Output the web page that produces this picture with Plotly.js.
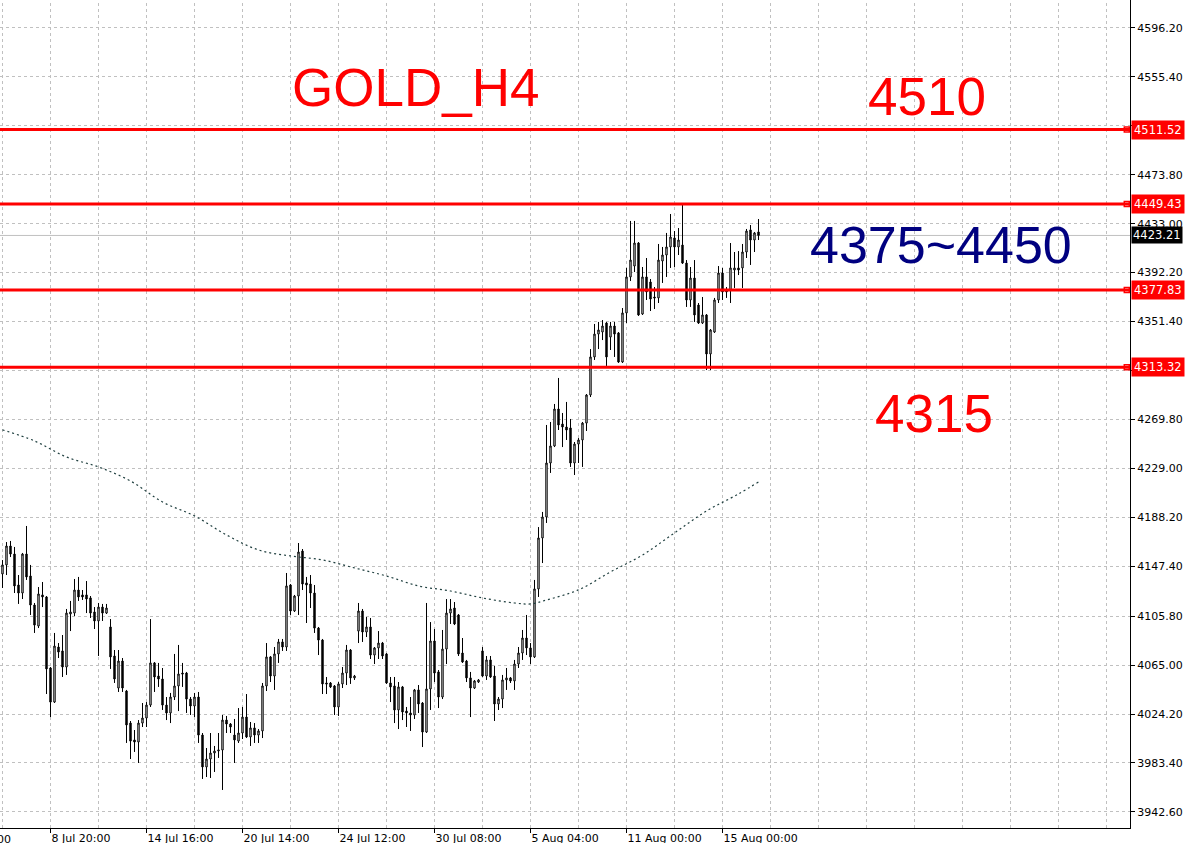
<!DOCTYPE html>
<html>
<head>
<meta charset="utf-8">
<script src="https://cdn.plot.ly/plotly-3.0.1.min.js"></script>
<style>
html,body{margin:0;padding:0;background:#fff;}
#chart{width:1191px;height:843px;}
</style>
</head>
<body>
<div id="chart"></div>
<script>
// ---- DATA ----
const openPrices = [4141.0,4148.5,4164.3,4157.6,4131.8,4125.1,4157.6,4139.3,4115.1,4097.6,
4123.5,4121.8,4062.6,4034.2,4080.1,4076.8,4063.4,4107.6,4108.4,4127.6,
4123.5,4123.5,4121.0,4109.3,4101.8,4113.4,4108.4,4096.8,4072.6,4045.9,
4068.4,4043.4,4016.7,4002.6,4000.9,4016.7,4020.9,4031.7,4066.8,4055.9,
4053.4,4031.7,4025.1,4038.4,4047.6,4058.4,4058.4,4036.7,4030.9,4038.4,
4006.7,3980.1,3986.7,3991.7,3993.4,3994.2,4019.2,4015.9,4006.7,4001.7,
4008.4,4021.7,4005.1,4012.6,4006.7,4010.1,4047.6,4071.8,4055.9,4074.3,
4084.3,4080.1,4131.8,4110.1,4122.6,4160.1,4133.5,4132.6,4125.1,4095.9,
4085.9,4050.1,4050.1,4047.6,4030.1,4049.3,4058.4,4077.6,4054.3,4093.4,
4110.1,4092.6,4096.8,4073.4,4079.3,4083.4,4074.3,4050.1,4047.6,4027.6,
4046.8,4026.7,4025.1,4023.4,4044.3,4033.4,4009.2,4045.1,4085.1,4059.3,
4038.4,4078.4,4108.4,4112.6,4106.8,4075.1,4068.4,4054.3,4045.9,4050.9,
4076.8,4055.9,4069.3,4055.9,4032.6,4036.7,4052.6,4054.3,4051.8,4065.9,
4075.1,4087.6,4079.3,4071.8,4128.5,4171.0,4188.5,4233.5,4247.7,4278.5,
4266.0,4263.5,4262.7,4233.5,4249.3,4252.7,4266.8,4290.2,4321.9,4341.0,
4342.7,4350.2,4338.5,4347.7,4341.9,4317.7,4358.6,4388.6,4397.7,4416.9,
4357.7,4388.6,4384.4,4371.9,4371.1,4401.9,4406.9,4413.6,4421.1,4413.6,
4415.2,4400.2,4369.4,4387.7,4365.2,4350.2,4356.9,4324.4,4342.7,4369.4,
4391.9,4377.7,4377.7,4394.4,4396.1,4396.1,4409.4,4427.8,4419.4,4426.1];

const highPrices = [4152.6,4167.6,4168.5,4163.5,4140.1,4158.5,4181.0,4148.5,4116.8,4130.1,
4134.3,4122.6,4063.4,4091.8,4083.4,4090.1,4111.8,4118.5,4136.8,4138.5,
4127.6,4135.1,4122.6,4113.4,4116.8,4116.0,4116.0,4103.4,4077.6,4077.6,
4070.9,4044.3,4018.4,4010.9,4019.2,4033.4,4034.2,4103.4,4067.6,4066.8,
4062.6,4038.4,4041.8,4074.3,4081.8,4066.8,4059.3,4038.4,4041.8,4042.6,
4008.4,3995.9,4008.4,3997.6,4008.4,4023.4,4022.6,4016.7,4020.1,4029.2,
4030.1,4040.9,4017.6,4016.7,4011.7,4050.1,4083.4,4072.6,4080.1,4086.8,
4086.8,4141.8,4132.6,4123.5,4166.8,4161.8,4138.5,4140.1,4131.8,4096.8,
4086.8,4055.1,4050.9,4048.4,4050.9,4063.4,4081.8,4078.4,4056.8,4116.8,
4111.8,4105.1,4104.3,4080.1,4093.4,4084.3,4075.1,4055.1,4055.1,4050.9,
4047.6,4030.1,4038.4,4045.1,4048.4,4034.2,4116.8,4100.9,4095.1,4060.9,
4094.3,4120.1,4120.1,4117.6,4107.6,4087.6,4069.3,4059.3,4052.6,4053.4,
4080.1,4072.6,4072.6,4064.3,4038.4,4056.8,4062.6,4055.1,4069.3,4080.1,
4094.3,4106.8,4083.4,4136.0,4180.1,4192.7,4265.2,4267.7,4282.7,4304.4,
4275.2,4284.4,4270.2,4251.0,4254.3,4267.7,4291.0,4328.5,4349.4,4351.1,
4352.7,4351.1,4351.1,4351.1,4342.7,4362.7,4396.1,4435.3,4435.3,4417.7,
4396.9,4404.4,4386.9,4380.2,4416.1,4413.6,4425.3,4441.1,4426.9,4429.4,
4449.4,4402.7,4396.9,4402.7,4366.9,4371.9,4357.7,4345.2,4371.1,4397.7,
4396.1,4380.2,4416.9,4409.4,4410.2,4416.1,4428.6,4431.9,4426.1,4436.9];

const lowPrices = [4129.3,4140.1,4155.1,4125.1,4116.0,4120.1,4136.0,4106.8,4091.8,4095.9,
4113.4,4040.9,4021.7,4033.4,4070.9,4055.1,4056.8,4093.4,4105.9,4118.5,
4119.3,4108.4,4104.3,4095.1,4072.6,4101.8,4107.6,4061.8,4050.1,4042.6,
4042.6,4000.1,3986.7,3992.6,3983.4,4013.4,4013.4,4030.1,4042.6,4046.8,
4027.6,4019.2,4016.7,4035.9,4026.7,4046.8,4025.1,4023.4,4021.7,4000.1,
3970.1,3971.7,3970.9,3975.9,3987.6,3960.9,4008.4,4008.4,3983.4,4000.1,
4003.4,4004.2,3997.6,4000.1,4000.1,4004.2,4043.4,4050.9,4044.3,4066.8,
4076.8,4076.8,4106.8,4109.3,4106.8,4127.6,4100.1,4112.6,4091.8,4073.4,
4040.9,4040.9,4045.9,4023.4,4022.6,4045.9,4048.4,4049.3,4052.6,4083.4,
4084.3,4088.4,4070.1,4065.9,4070.1,4070.1,4049.3,4034.2,4016.7,4011.7,
4019.2,4013.4,4010.1,4020.1,4025.1,3996.7,4008.4,4027.6,4050.9,4029.2,
4036.7,4065.9,4099.3,4098.4,4072.6,4066.8,4050.9,4021.7,4045.1,4050.1,
4055.1,4052.6,4054.3,4018.4,4027.6,4029.2,4044.3,4050.1,4044.3,4062.6,
4069.3,4073.4,4065.9,4070.9,4121.8,4150.1,4183.5,4225.2,4246.8,4261.0,
4246.8,4252.7,4230.2,4223.5,4233.5,4230.2,4260.2,4288.5,4319.4,4328.5,
4336.0,4314.4,4327.7,4321.9,4316.9,4316.9,4350.2,4385.2,4392.7,4356.1,
4356.9,4369.4,4360.2,4361.9,4366.9,4383.6,4388.6,4396.1,4396.9,4406.9,
4399.4,4363.6,4363.6,4351.1,4349.4,4349.4,4311.0,4311.0,4341.9,4366.9,
4369.4,4371.1,4366.9,4379.4,4390.2,4379.4,4404.4,4398.6,4409.4,4419.4];

const closePrices = [4148.5,4164.3,4157.6,4131.0,4125.1,4157.6,4138.5,4115.1,4098.4,4124.3,
4121.8,4061.8,4034.2,4080.9,4075.9,4063.4,4108.4,4109.3,4127.6,4121.8,
4121.8,4120.1,4108.4,4101.8,4113.4,4108.4,4112.6,4071.8,4053.4,4068.4,
4045.9,4015.1,4001.7,4000.9,4016.7,4020.9,4031.7,4066.8,4055.1,4053.4,
4031.7,4025.1,4038.4,4047.6,4057.6,4057.6,4036.7,4030.9,4038.4,4006.7,
3980.1,3986.7,3991.7,3993.4,3994.2,4019.2,4015.9,4013.4,4002.6,4008.4,
4021.7,4005.1,4012.6,4006.7,4010.1,4047.6,4071.8,4055.9,4074.3,4084.3,
4080.1,4131.0,4110.1,4122.6,4159.3,4132.6,4131.8,4125.1,4095.9,4085.9,
4049.3,4049.3,4046.8,4030.1,4049.3,4058.4,4077.6,4054.3,4055.9,4110.1,
4092.6,4096.8,4073.4,4079.3,4083.4,4072.6,4050.1,4046.8,4027.6,4046.8,
4025.9,4025.1,4023.4,4044.3,4032.6,4009.2,4045.1,4085.1,4058.4,4038.4,
4078.4,4108.4,4111.8,4099.3,4074.3,4067.6,4054.3,4045.9,4051.8,4052.6,
4055.9,4069.3,4055.1,4032.6,4036.7,4052.6,4054.3,4051.8,4065.9,4075.1,
4087.6,4079.3,4071.8,4128.5,4171.0,4188.5,4233.5,4247.7,4278.5,4265.2,
4263.5,4261.0,4233.5,4249.3,4252.7,4266.8,4290.2,4321.9,4341.0,4344.4,
4347.7,4321.9,4347.7,4341.0,4317.7,4358.6,4388.6,4402.7,4416.9,4356.9,
4388.6,4376.1,4370.2,4371.1,4402.7,4406.9,4413.6,4421.9,4413.6,4419.4,
4400.2,4369.4,4387.7,4356.9,4350.2,4356.9,4324.4,4344.4,4369.4,4391.9,
4376.1,4376.1,4396.1,4396.1,4394.4,4409.4,4426.9,4419.4,4425.3,4423.2];

// moving average (dotted line) read at sample bars
const maBars   = [0,8,16,24,32,40,48,56,64,72,80,88,96,104,112,120,128,132,136,144,152,160,168,176,184,189];
const maValues = [4261.1,4251.9,4238.5,4230.2,4218.5,4201.0,4189.4,4173.5,4161.0,4156.0,4152.7,4146.0,4139.3,4131.0,4126.8,4121.0,4116.8,4116.0,4119.3,4127.7,4142.7,4156.8,4175.2,4193.5,4207.7,4217.7];

// x-axis time labels at bar positions
const xTickBars   = [12,36,60,84,108,132,156,180];
const xTickLabels = ["8 Jul 20:00","14 Jul 16:00","20 Jul 14:00","24 Jul 12:00","30 Jul 08:00","5 Aug 04:00","11 Aug 00:00","15 Aug 00:00"];

// price scale labels
const yTickValues = [4596.20,4555.40,4514.60,4473.80,4433.00,4392.20,4351.40,4310.60,4269.80,4229.00,4188.20,4147.40,4105.80,4065.00,4024.20,3983.40,3942.60];

// horizontal levels
const levelPrices = [4511.52,4449.43,4377.83,4313.32];
const lastPrice = 4423.21;

// text on chart
const chartTitle = "GOLD_H4";
const zoneTexts = [
  {text:"4510", color:"#ff0000"},
  {text:"4375~4450", color:"#000080"},
  {text:"4315", color:"#ff0000"}
];

// ---- LAYOUT HELPERS ----
const W = 1191, H = 843, PL = 0, PR = 1130, PT = 0, PB = 828;
const plotW = PR - PL, plotH = PB - PT;
const px2paperX = p => (p - PL) / plotW;
const px2paperY = p => 1 - (p - PT) / plotH;
const xMin = -0.625;
const xMax = (PR - PL) / 4 + xMin;

const barIdx = openPrices.map((_, i) => i);
const tickFont = {family: 'DejaVu Sans, sans-serif', size: 11, color: '#000000'};

const traces = [
  {
    type: 'candlestick',
    x: barIdx,
    open: openPrices, high: highPrices, low: lowPrices, close: closePrices,
    increasing: {line: {color: '#000000', width: 1}, fillcolor: '#ffffff'},
    decreasing: {line: {color: '#000000', width: 1}, fillcolor: '#000000'},
    whiskerwidth: 0,
    hoverinfo: 'skip',
    showlegend: false
  },
  {
    type: 'scatter', mode: 'lines',
    x: maBars, y: maValues,
    line: {color: '#1f3f3f', width: 1.2, dash: '2px,3px', shape: 'spline'},
    hoverinfo: 'skip', showlegend: false
  },
  {
    type: 'scatter', mode: 'markers',
    x: levelPrices.map(() => xMax - 0.8), y: levelPrices,
    marker: {symbol: 'square', size: 5, color: '#ffffff', line: {color: '#ff0000', width: 1.5}},
    cliponaxis: false, hoverinfo: 'skip', showlegend: false
  }
];

const shapes = [];
// vertical dashed grid every 12 bars
for (let g = 0; g <= xMax; g += 12) {
  shapes.push({type: 'line', xref: 'x', x0: g, x1: g, yref: 'paper', y0: 0, y1: 1,
    line: {color: '#c0c0c0', width: 1, dash: '3px,3px'}, layer: 'below'});
}
shapes.push({type: 'line', xref: 'paper', x0: 0, x1: 1, yref: 'y', y0: lastPrice, y1: lastPrice,
  line: {color: '#c0c0c0', width: 1}, layer: 'below'});
levelPrices.forEach(p => shapes.push({type: 'line', xref: 'paper', x0: 0, x1: 1, yref: 'y', y0: p, y1: p,
  line: {color: '#ff0000', width: 3}}));

const annotations = [];
levelPrices.forEach(p => annotations.push({
  xref: 'paper', x: 1 + 1 / plotW, xanchor: 'left', yref: 'y', y: p, yanchor: 'middle',
  text: p.toFixed(2), showarrow: false, bgcolor: '#ff0000', borderpad: 2,
  font: {family: 'DejaVu Sans, sans-serif', size: 11.5, color: '#ffffff'}
}));
annotations.push({
  xref: 'paper', x: 1 + 1 / plotW, xanchor: 'left', yref: 'y', y: lastPrice, yanchor: 'middle',
  text: lastPrice.toFixed(2), showarrow: false, bgcolor: '#000000', borderpad: 1,
  font: {family: 'DejaVu Sans, sans-serif', size: 11.5, color: '#ffffff'}
});
const bigFont = 'Liberation Sans, Arial, sans-serif';
annotations.push({xref: 'paper', yref: 'paper', x: px2paperX(290), y: px2paperY(87), xanchor: 'left', yanchor: 'middle',
  text: chartTitle, showarrow: false, font: {family: bigFont, size: 53, color: '#ff0000'}});
const zonePos = [[866, 97], [808, 245], [873, 413]];
const zoneSize = [53, 52, 53];
zoneTexts.forEach((z, k) => annotations.push({xref: 'paper', yref: 'paper',
  x: px2paperX(zonePos[k][0]), y: px2paperY(zonePos[k][1]), xanchor: 'left', yanchor: 'middle',
  text: z.text, showarrow: false, font: {family: bigFont, size: zoneSize[k], color: z.color}}));
// partially visible time label at the left edge
annotations.push({xref: 'paper', yref: 'paper', x: px2paperX(12), y: px2paperY(832), xanchor: 'right', yanchor: 'top',
  text: '4 Jul 00:00', showarrow: false, borderpad: 0, font: tickFont});

const layout = {
  width: W, height: H,
  margin: {l: PL, r: W - PR, t: PT, b: H - PB, pad: 0},
  paper_bgcolor: '#ffffff', plot_bgcolor: '#ffffff',
  showlegend: false,
  boxgap: 0.5,
  hovermode: false,
  font: tickFont,
  xaxis: {
    range: [xMin, xMax],
    rangeslider: {visible: false},
    tickmode: 'array', tickvals: xTickBars, ticktext: xTickLabels,
    ticks: 'outside', ticklen: 4, tickcolor: '#000000', tickwidth: 1,
    ticklabelposition: 'outside right',
    showline: true, linecolor: '#000000', linewidth: 1,
    showgrid: false,
    zeroline: false, fixedrange: true,
    tickfont: tickFont
  },
  yaxis: {
    side: 'right',
    range: [3929.2, 4619.5],
    tickmode: 'array', tickvals: yTickValues, ticktext: yTickValues.map(v => v.toFixed(2)),
    ticks: 'outside', ticklen: 4, tickcolor: '#000000', tickwidth: 1,
    showline: true, linecolor: '#000000', linewidth: 1,
    showgrid: true, gridcolor: '#c0c0c0', griddash: '3px,3px', gridwidth: 1,
    zeroline: false, fixedrange: true,
    tickfont: tickFont
  },
  shapes: shapes,
  annotations: annotations
};

Plotly.newPlot('chart', traces, layout, {staticPlot: true, displayModeBar: false});
</script>
</body>
</html>
